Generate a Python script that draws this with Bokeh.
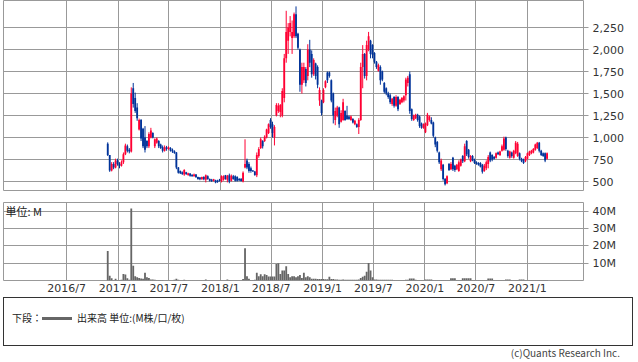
import pandas as pd
from bokeh.plotting import figure
from bokeh.models import Range1d, FixedTicker, NumeralTickFormatter, ColumnDataSource, Label, Div
from bokeh.layouts import column
from bokeh.embed import file_html
from bokeh.resources import INLINE

FONT = "Noto Sans CJK JP"
NUMFONT = "DejaVu Sans"
UP = "#ff0033"
DOWN = "#003399"
GRID = "#999999"
VOL = "#666666"

first_week = "2016-11-25"

opens = [
    930, 800, 625, 700, 660, 740, 700, 680, 720, 810,
    900, 860, 840, 1560, 1450, 1340, 1090, 1200, 1100, 1000,
    960, 900, 1000, 1050, 900, 940, 960, 920, 890, 850,
    890, 870, 880, 860, 845, 830, 660, 620, 605, 580,
    605, 575, 590, 575, 560, 580, 550, 545, 525, 550,
    520, 560, 530, 520, 505, 515, 510, 520, 500, 520,
    570, 520, 570, 510, 560, 560, 550, 530, 530, 500,
    660, 740, 700, 650, 625, 615, 570, 790, 880, 960,
    960, 1000, 1050, 1200, 1150, 1000, 1250, 1300, 1290, 1250,
    1450, 1900, 2100, 2200, 2130, 2150, 2400, 2180, 2000, 1600,
    1650, 1780, 1700, 2000, 1950, 1720, 1840, 1800, 1420, 1420,
    1400, 1570, 1740, 1740, 1650, 1500, 1200, 1250, 1340, 1180,
    1200, 1300, 1250, 1240, 1200, 1210, 1150, 1150, 1120, 1200,
    1800, 1950, 1700, 2000, 2100, 2050, 1960, 1860, 1760, 1800,
    1750, 1620, 1560, 1500, 1480, 1380, 1460, 1360, 1460, 1380,
    1400, 1420, 1480, 1620, 1720, 1320, 1200, 1220, 1260, 1240,
    1160, 1110, 1060, 1140, 1200, 1200, 1170, 1000, 950, 830,
    640, 690, 530, 480, 700, 640, 770, 680, 640, 620,
    680, 790, 730, 960, 860, 730, 790, 750, 720, 710,
    710, 690, 620, 650, 700, 830, 800, 780, 770, 830,
    800, 850, 860, 1000, 850, 770, 830, 770, 820, 790,
    820, 760, 750, 730, 760, 800, 820, 830, 860, 880,
    940, 850, 820, 820, 760,
]
highs = [
    945, 800, 720, 720, 760, 760, 720, 740, 830, 930,
    920, 880, 1570, 1620, 1510, 1390, 1215, 1210, 1110, 1130,
    970, 1060, 1110, 1060, 990, 1000, 970, 930, 910, 910,
    905, 900, 890, 875, 855, 835, 665, 625, 615, 640,
    610, 600, 595, 585, 590, 585, 555, 550, 555, 560,
    580, 570, 535, 530, 530, 520, 520, 530, 570, 570,
    575, 575, 590, 580, 575, 570, 560, 540, 540, 615,
    980, 760, 720, 670, 630, 620, 830, 890, 1000, 970,
    1025, 1100, 1160, 1220, 1180, 1140, 1390, 1390, 1380, 1560,
    1950, 2440, 2300, 2380, 2330, 2420, 2490, 2190, 2010, 1850,
    1850, 1800, 2060, 2110, 1990, 1900, 1850, 1820, 1570, 1430,
    1560, 1650, 1750, 1750, 1660, 1510, 1340, 1360, 1350, 1310,
    1440, 1310, 1360, 1250, 1250, 1220, 1200, 1160, 1220, 1850,
    2050, 1960, 2100, 2200, 2110, 2060, 1970, 1870, 1840, 1820,
    1760, 1630, 1570, 1520, 1500, 1450, 1470, 1480, 1470, 1440,
    1460, 1480, 1680, 1700, 1750, 1330, 1260, 1270, 1270, 1250,
    1170, 1160, 1170, 1280, 1250, 1230, 1180, 1010, 960, 840,
    760, 700, 540, 570, 710, 720, 780, 690, 700, 740,
    760, 800, 930, 970, 870, 800, 800, 760, 730, 720,
    720, 700, 700, 740, 800, 840, 810, 790, 830, 840,
    850, 920, 1010, 1010, 860, 850, 840, 860, 960, 950,
    830, 770, 760, 790, 830, 850, 860, 880, 930, 950,
    950, 860, 830, 830, 830,
]
lows = [
    790, 610, 615, 640, 650, 680, 650, 670, 700, 800,
    830, 820, 830, 1340, 1280, 1190, 1080, 960, 880, 830,
    880, 880, 990, 990, 880, 930, 880, 870, 830, 840,
    850, 860, 840, 825, 815, 640, 590, 585, 575, 565,
    575, 565, 555, 555, 555, 540, 520, 515, 520, 515,
    490, 520, 500, 495, 500, 480, 485, 500, 490, 510,
    520, 490, 480, 500, 520, 500, 500, 505, 500, 490,
    650, 640, 600, 600, 610, 565, 550, 770, 870, 875,
    950, 990, 1040, 1100, 1000, 910, 1240, 1280, 1230, 1230,
    1400, 1850, 1950, 2150, 1950, 2130, 2130, 2000, 1520, 1500,
    1620, 1580, 1650, 1800, 1680, 1700, 1660, 1560, 1360, 1250,
    1390, 1560, 1620, 1680, 1400, 1160, 1140, 1230, 1110, 1170,
    1190, 1190, 1200, 1200, 1190, 1160, 1140, 1110, 1040, 1190,
    1560, 1670, 1650, 1980, 1900, 1900, 1840, 1780, 1750, 1600,
    1640, 1500, 1480, 1440, 1380, 1360, 1340, 1350, 1300, 1370,
    1390, 1400, 1420, 1580, 1270, 1190, 1190, 1210, 1180, 1110,
    1100, 1100, 1050, 1130, 1180, 1150, 1000, 890, 830, 700,
    620, 510, 455, 470, 620, 630, 620, 610, 630, 610,
    670, 710, 720, 790, 760, 720, 730, 700, 690, 680,
    660, 590, 610, 630, 650, 720, 730, 750, 760, 800,
    790, 840, 850, 850, 770, 760, 770, 760, 810, 780,
    740, 720, 700, 720, 750, 790, 810, 820, 850, 870,
    830, 790, 780, 720, 750,
]
closes = [
    800, 625, 700, 660, 740, 700, 680, 720, 810, 910,
    850, 840, 1500, 1380, 1300, 1220, 1200, 990, 900, 860,
    900, 1040, 1080, 1000, 980, 990, 900, 880, 850, 890,
    870, 890, 850, 840, 825, 660, 600, 595, 585, 630,
    585, 595, 565, 560, 580, 550, 530, 525, 550, 525,
    570, 530, 510, 505, 525, 490, 495, 505, 560, 560,
    530, 565, 500, 565, 530, 510, 510, 515, 505, 600,
    700, 660, 620, 620, 615, 575, 800, 870, 980, 900,
    1010, 1090, 1150, 1120, 1050, 1120, 1370, 1360, 1370, 1530,
    1900, 2200, 2250, 2300, 2200, 2400, 2150, 2020, 1600, 1800,
    1800, 1620, 2000, 1850, 1720, 1880, 1700, 1600, 1540, 1280,
    1540, 1640, 1650, 1700, 1420, 1250, 1300, 1340, 1150, 1280,
    1400, 1200, 1210, 1210, 1240, 1170, 1190, 1120, 1200, 1800,
    1950, 1700, 2050, 2150, 1950, 1940, 1860, 1800, 1820, 1650,
    1660, 1520, 1500, 1460, 1400, 1440, 1360, 1460, 1320, 1430,
    1450, 1470, 1660, 1680, 1300, 1210, 1250, 1260, 1200, 1130,
    1110, 1150, 1160, 1260, 1240, 1160, 1020, 920, 850, 720,
    740, 530, 470, 560, 630, 700, 640, 630, 690, 720,
    750, 730, 900, 810, 780, 790, 740, 710, 700, 690,
    670, 610, 680, 720, 780, 740, 750, 760, 820, 810,
    840, 900, 990, 870, 790, 840, 790, 850, 940, 930,
    760, 730, 710, 780, 820, 840, 850, 870, 920, 940,
    850, 800, 790, 740, 820,
]
volume_m = [
    17, 2.8, 1.3, 0.3, 1.0, 0.3, 0.3, 0.4, 3.8, 3.5,
    1.3, 0.5, 41.5, 8.5, 2.5, 1.9, 1.5, 1.2, 1.0, 4.4,
    1.9, 1.5, 0.6, 0.6, 0.5, 0.3, 0.3, 0.3, 0.3, 0.2,
    0.2, 0.2, 0.2, 0.2, 0.4, 1.0, 0.4, 0.2, 0.2, 0.4,
    0.2, 0.1, 0.1, 0.1, 0.1, 0.1, 0.1, 0.1, 0.1, 0.2,
    0.6, 0.2, 0.1, 0.1, 0.1, 0.1, 0.1, 0.1, 0.2, 0.2,
    0.2, 0.6, 0.3, 0.2, 0.2, 0.1, 0.1, 0.1, 0.2, 0.8,
    18.6, 2.5, 1.0, 0.3, 0.3, 0.4, 4.4, 2.5, 3.6, 2.5,
    3.6, 3.2, 2.3, 2.3, 2.3, 2.3, 9.5, 9.9, 3.8, 5.7,
    5.7, 8.2, 3.8, 1.9, 2.5, 2.5, 1.9, 2.5, 3.2, 1.5,
    4.4, 1.9, 2.5, 1.9, 1.0, 1.0, 1.0, 0.9, 0.9, 0.8,
    0.8, 0.7, 0.7, 2.1, 0.9, 0.8, 0.6, 0.6, 0.5, 0.5,
    0.6, 0.5, 0.5, 0.5, 0.4, 0.4, 0.4, 0.4, 0.6, 1.5,
    2.1, 2.8, 5.1, 10.1, 5.7, 1.9, 0.6, 0.6, 0.5, 0.5,
    0.5, 0.4, 0.4, 0.4, 0.4, 0.4, 0.3, 0.3, 0.3, 0.3,
    0.3, 0.3, 0.5, 0.5, 1.2, 1.2, 1.2, 0.5, 0.3, 0.3,
    0.3, 0.3, 0.6, 0.6, 0.6, 0.6, 0.3, 0.3, 0.3, 0.3,
    0.3, 0.3, 0.3, 0.3, 0.3, 1.3, 1.3, 1.3, 0.3, 0.3,
    0.3, 1.3, 1.3, 1.3, 1.3, 1.3, 0.3, 0.3, 0.3, 0.3,
    0.3, 0.3, 0.3, 0.3, 1.2, 1.2, 1.2, 0.3, 0.3, 0.3,
    0.3, 0.3, 0.3, 0.6, 0.6, 0.6, 0.3, 0.3, 0.3, 0.3,
    0.6, 0.6, 0.6, 0.3, 0.3, 0.3, 0.3, 0.3, 0.3, 0.3,
    0.3, 0.3, 0.3, 0.3, 0.3,
]

x_tick_dates = ["2016-07-01", "2017-01-01", "2017-07-01", "2018-01-01", "2018-07-01",
                "2019-01-01", "2019-07-01", "2020-01-01", "2020-07-01", "2021-01-01"]
x_tick_labels = ["2016/7", "2017/1", "2017/7", "2018/1", "2018/7",
                 "2019/1", "2019/7", "2020/1", "2020/7", "2021/1"]
price_ticks = [500, 750, 1000, 1250, 1500, 1750, 2000, 2250]
volume_ticks = [10, 20, 30, 40]
volume_tick_labels = ["10M", "20M", "30M", "40M"]

dates = pd.date_range(first_week, periods=len(closes), freq="7D")
xt = [int(pd.Timestamp(d).value // 10**6) for d in x_tick_dates]

colors = [UP if c >= o else DOWN for o, c in zip(opens, closes)]
src = ColumnDataSource(dict(
    date=dates, high=highs, low=lows,
    top=[max(o, c) for o, c in zip(opens, closes)],
    bottom=[min(o, c) for o, c in zip(opens, closes)],
    color=colors, volume=volume_m,
))

DAY = 86400000
x_range = Range1d(pd.Timestamp("2015-11-19"), pd.Timestamp("2021-07-20"))

# ---- price panel ----
p = figure(width=638, height=191, x_axis_type="datetime", x_axis_location=None,
           y_axis_location="right", x_range=x_range, y_range=Range1d(398, 2557),
           output_backend="svg", toolbar_location=None,
           min_border_left=3, min_border_right=55, min_border_top=0, min_border_bottom=1)
p.xgrid.ticker = FixedTicker(ticks=xt)
p.yaxis.ticker = FixedTicker(ticks=price_ticks)
p.yaxis.formatter = NumeralTickFormatter(format="0,0")
p.grid.grid_line_color = GRID
p.grid.grid_line_width = 1
p.outline_line_color = GRID
p.yaxis.axis_line_color = None
p.yaxis.major_tick_line_color = GRID
p.yaxis.major_tick_out = 5
p.yaxis.major_tick_in = 0
p.yaxis.minor_tick_line_color = None
p.yaxis.major_label_standoff = 4
p.yaxis.major_label_text_font = NUMFONT
p.yaxis.major_label_text_font_size = "11px"
p.yaxis.major_label_text_color = "#333333"

p.segment(x0="date", y0="low", x1="date", y1="high", line_color="color", line_width=1, source=src)
p.vbar(x="date", width=6.5 * DAY, top="top", bottom="bottom", fill_color="color",
       line_color=None, source=src)

# ---- volume panel ----
v = figure(width=638, height=106, x_axis_type="datetime", y_axis_location="right",
           x_range=x_range, y_range=Range1d(0, 45),
           output_backend="svg", toolbar_location=None,
           min_border_left=3, min_border_right=55, min_border_top=11, min_border_bottom=15)
v.vbar(x="date", width=6.5 * DAY, top="volume", bottom=0, fill_color=VOL, line_color=None, source=src)
v.xaxis.ticker = FixedTicker(ticks=xt)
v.xgrid.ticker = FixedTicker(ticks=xt)
v.xaxis.major_label_overrides = {t: lab for t, lab in zip(xt, x_tick_labels)}
v.xaxis.axis_line_color = None
v.xaxis.major_tick_line_color = None
v.xaxis.minor_tick_line_color = None
v.xaxis.major_tick_out = 0
v.xaxis.major_tick_in = 0
v.xaxis.major_label_standoff = 1
v.xaxis.major_label_text_font = NUMFONT
v.xaxis.major_label_text_font_size = "11px"
v.xaxis.major_label_text_color = "#333333"
v.yaxis.ticker = FixedTicker(ticks=volume_ticks)
v.yaxis.major_label_overrides = {t: lab for t, lab in zip(volume_ticks, volume_tick_labels)}
v.yaxis.axis_line_color = None
v.yaxis.major_tick_line_color = GRID
v.yaxis.major_tick_out = 5
v.yaxis.major_tick_in = 0
v.yaxis.minor_tick_line_color = None
v.yaxis.major_label_standoff = 4
v.yaxis.major_label_text_font = NUMFONT
v.yaxis.major_label_text_font_size = "11px"
v.yaxis.major_label_text_color = "#333333"
v.grid.grid_line_color = GRID
v.outline_line_color = GRID
v.add_layout(Label(x=2, y=40, x_units="screen", y_units="data", text="単位: M",
                   text_font=FONT, text_font_size="11px", text_baseline="middle",
                   text_color="#222222"))

# ---- footer (legend box + credit) ----
footer_html = f"""
<div style="position:relative;width:638px;height:65px;font-family:'{FONT}';color:#222;">
 <div style="position:absolute;left:3px;top:0px;width:630px;height:49px;border:1px solid #333;box-sizing:border-box;"></div>
 <span style="position:absolute;left:12px;top:14px;font-size:10px;line-height:14px;white-space:nowrap;">下段：</span>
 <span style="position:absolute;left:42px;top:20px;width:30px;height:3px;background:{VOL};"></span>
 <span style="position:absolute;left:77px;top:14px;font-size:10px;line-height:14px;white-space:nowrap;">出来高 単位:(M株/口/枚)</span>
 <span style="position:absolute;right:18px;top:50px;font-size:10px;line-height:11px;color:#444;white-space:nowrap;">(c)Quants Research Inc.</span>
</div>
"""
footer = Div(text=footer_html, width=638, height=65, margin=(0, 0, 0, 0))

layout = column(p, v, footer, spacing=0)
open("out.html", "w").write(file_html(layout, INLINE))
